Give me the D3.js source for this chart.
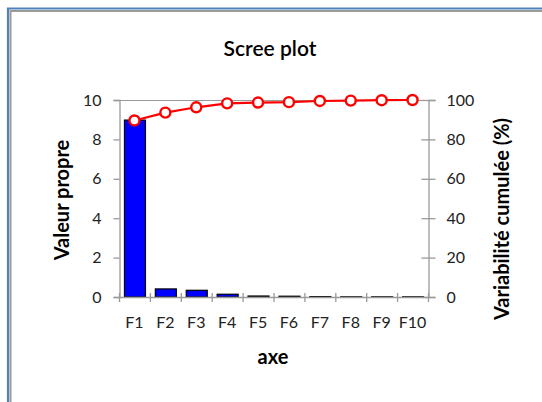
<!DOCTYPE html>
<html><head><meta charset="utf-8">
<script src="https://cdn.jsdelivr.net/npm/d3@7"></script>
<style>
html,body{margin:0;padding:0;background:#fff;}
svg{display:block;}
text{font-family:Lato,"Open Sans",sans-serif;}
</style></head>
<body>
<svg id="c" width="542" height="402"></svg>
<script>
const categories = ["F1","F2","F3","F4","F5","F6","F7","F8","F9","F10"];
const eigenvalues = [8.98, 0.41, 0.34, 0.14, 0.05, 0.04, 0.02, 0.01, 0.01, 0.01];
const cumulative = [89.6, 93.6, 96.3, 98.3, 98.7, 98.9, 99.5, 99.7, 99.9, 100];
const leftTicks = [0, 2, 4, 6, 8, 10];
const rightTicks = [0, 20, 40, 60, 80, 100];
const title = "Scree plot";
const xLabel = "axe";
const yLabel = "Valeur propre";
const y2Label = "Variabilité cumulée (%)";

const svg = d3.select("#c");
// frame
svg.append("path").attr("d","M8,420 V8.5 H560").attr("fill","none").attr("stroke","#4f81bd").attr("stroke-width",2.2);
svg.append("path").attr("d","M10.5,420 V11 H560").attr("fill","none").attr("stroke","#9a9a9a").attr("stroke-width",2);

const L = 119, R = 428, T = 100, B = 297;
const x = d3.scaleBand().domain(categories).range([L, R]).paddingInner(0.32).paddingOuter(0.16);
const xb = d3.scaleBand().domain(categories).range([L, R]);
const y = d3.scaleLinear().domain([0, 10]).range([B, T]);
const y2 = d3.scaleLinear().domain([0, 100]).range([B, T]);

const axisColor = "#9a9a9a";
// top border
svg.append("line").attr("x1",L).attr("x2",R).attr("y1",T+0.5).attr("y2",T+0.5).attr("stroke",axisColor);

// bars
svg.selectAll("rect.bar").data(eigenvalues).join("rect")
  .attr("x",(d,i)=>x(categories[i])+0.5)
  .attr("y",d=>y(d))
  .attr("width",x.bandwidth())
  .attr("height",d=>B-y(d))
  .attr("fill","#0000ff").attr("stroke","#000").attr("stroke-width",1.2);

// left axis
const gl = svg.append("g").attr("transform",`translate(${L+0.5},0)`)
  .call(d3.axisLeft(y).tickValues(leftTicks).tickSize(6).tickPadding(12));
// right axis
const gr = svg.append("g").attr("transform",`translate(${R+0.5},0)`)
  .call(d3.axisRight(y2).tickValues(rightTicks).tickSize(7).tickPadding(11));
gr.selectAll(".tick line").attr("x1",-7);
// bottom axis
const gb = svg.append("g").attr("transform",`translate(0,${B+0.5})`)
  .call(d3.axisBottom(xb).tickSize(0).tickPadding(19));
[gl,gr,gb].forEach(g=>{
  g.select(".domain").attr("stroke",axisColor).attr("stroke-width",1.3);
  g.selectAll(".tick line").attr("stroke",axisColor).attr("stroke-width",1.3);
  g.selectAll("text").attr("fill","#222").style("font-size","16px").style("font-family","Lato,sans-serif");
});
gb.select(".domain").attr("d",`M${L},0H${R}`);
// boundary ticks on x axis
const bounds = categories.map(c=>xb(c)).concat([R]);
svg.selectAll("line.xt").data(bounds).join("line")
  .attr("x1",d=>d+0.5).attr("x2",d=>d+0.5).attr("y1",B-4).attr("y2",B+5)
  .attr("stroke",axisColor).attr("stroke-width",1.3);

// cumulative line
const line = d3.line().x((d,i)=>xb(categories[i])+xb.bandwidth()/2).y(d=>y2(d));
svg.append("path").datum(cumulative).attr("d",line).attr("fill","none").attr("stroke","#ff0000").attr("stroke-width",2.2);
svg.selectAll("circle.pt").data(cumulative).join("circle")
  .attr("cx",(d,i)=>xb(categories[i])+xb.bandwidth()/2).attr("cy",d=>y2(d)).attr("r",5)
  .attr("fill","#fff").attr("stroke","#ff0000").attr("stroke-width",2.4);

// titles
svg.append("text").attr("x",270).attr("y",56).attr("text-anchor","middle")
  .style("font-size","21px").style("font-weight","600").attr("fill","#000").text(title);
svg.append("text").attr("x",273).attr("y",364).attr("text-anchor","middle")
  .style("font-size","20px").style("font-weight","bold").attr("fill","#000").text(xLabel);
svg.append("text").attr("transform","translate(69,200) rotate(-90)").attr("text-anchor","middle")
  .style("font-size","20px").style("font-weight","bold").attr("fill","#000").text(yLabel);
svg.append("text").attr("transform","translate(509,219) rotate(-90)").attr("text-anchor","middle")
  .style("font-size","20px").style("font-weight","bold").attr("fill","#000").text(y2Label);
</script>
</body></html>
